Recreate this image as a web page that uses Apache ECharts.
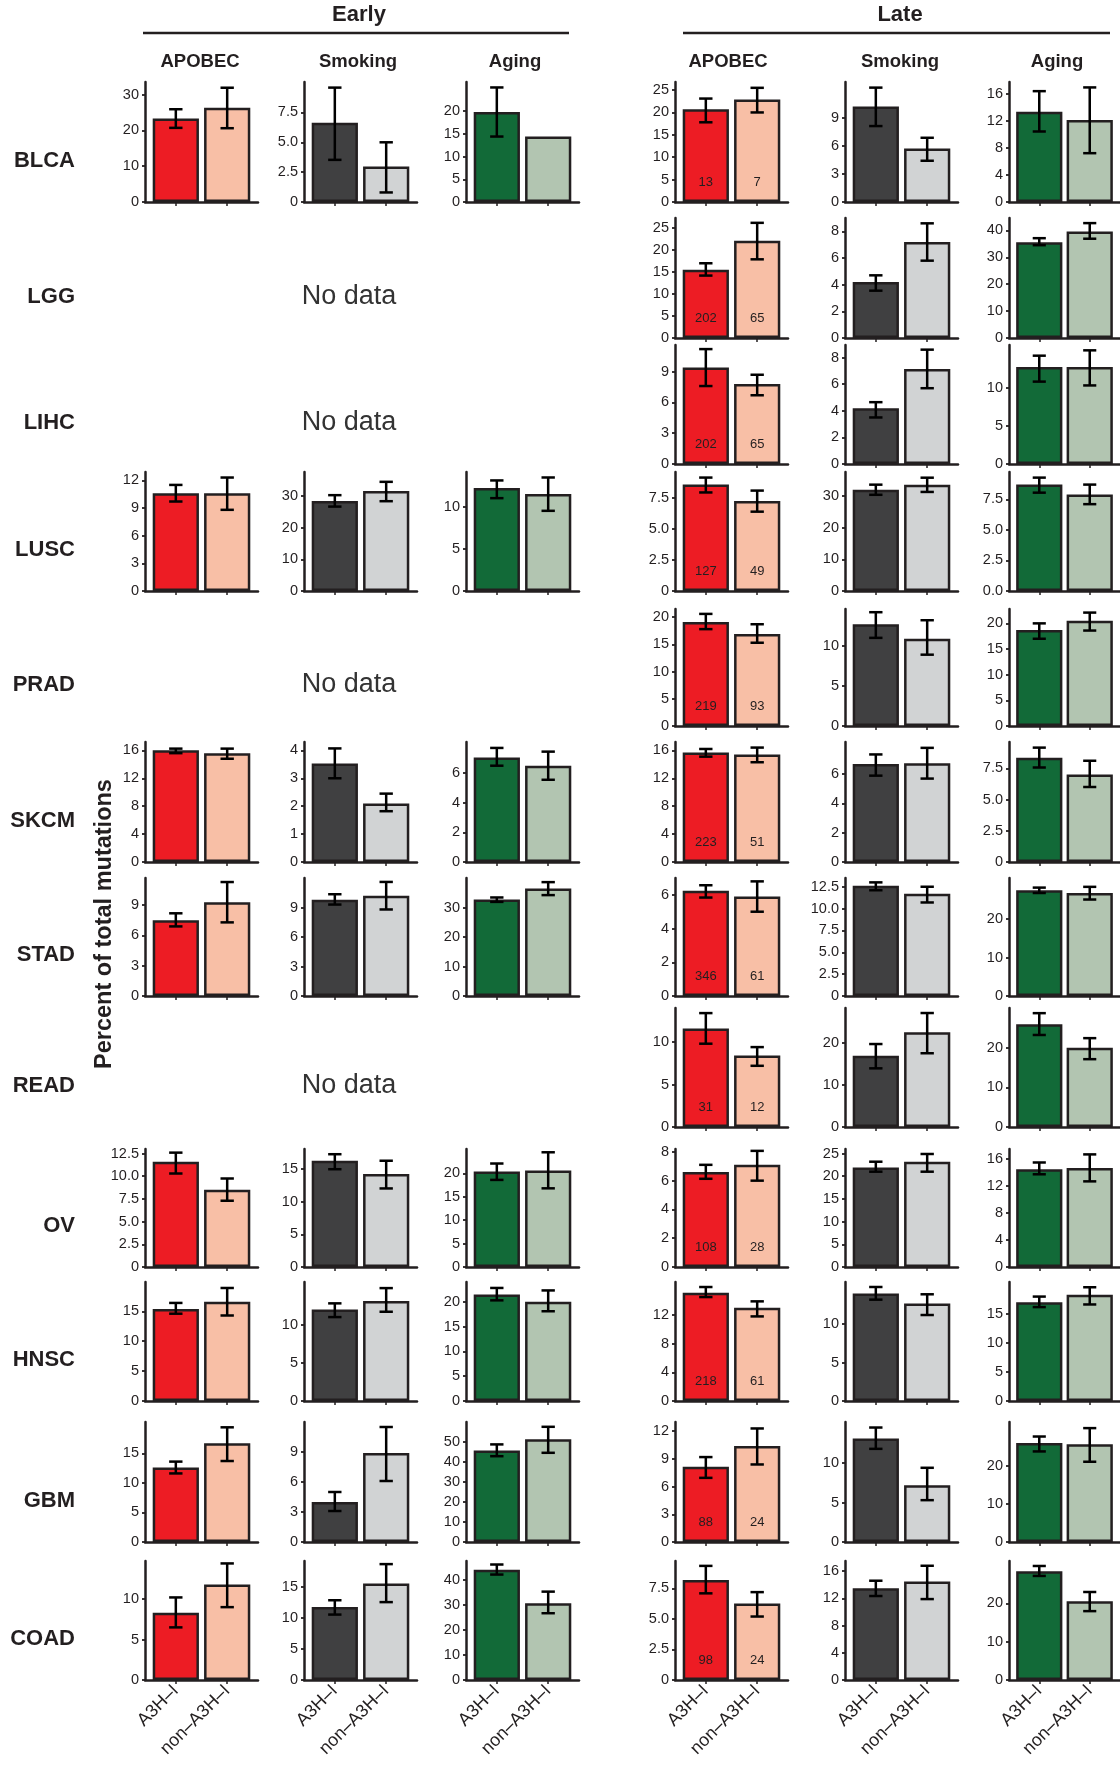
<!DOCTYPE html>
<html><head><meta charset="utf-8">
<script src="https://cdn.jsdelivr.net/npm/echarts@6.0.0/dist/echarts.min.js"></script>
<style>html,body{margin:0;padding:0;background:#fff}#chart{width:1120px;height:1768px}</style>
</head><body><div id="chart"></div>
<script>
// ---------- DATA ----------
const cancers = ['BLCA','LGG','LIHC','LUSC','PRAD','SKCM','STAD','READ','OV','HNSC','GBM','COAD'];
const phases = ['Early','Late'];
const signatures = ['APOBEC','Smoking','Aging'];
const groups = ['A3H\u2013I','non\u2013A3H\u2013I'];
const noDataText = 'No data';
const yTitle = 'Percent of total mutations';

// Early APOBEC
const earlyApobecMean = [[23.3,26.3],null,null,[10.6,10.6],null,[16.0,15.6],[7.5,9.3],null,[11.6,8.5],[15.4,16.6],[12.6,16.7],[8.3,11.8]];
const earlyApobecLow  = [[20.7,20.6],null,null,[9.7,8.8],null,[15.6,14.8],[6.9,7.3],null,[10.3,7.3],[14.6,14.3],[11.6,13.7],[6.5,9.0]];
const earlyApobecHigh = [[25.9,31.9],null,null,[11.5,12.3],null,[16.25,16.25],[8.2,11.3],null,[12.6,9.75],[16.4,18.9],[13.6,19.4],[10.2,14.4]];
const earlyApobecMax  = [33.5,null,null,12.9,null,17.2,11.7,null,13.0,19.9,20.3,14.7];
const earlyApobecTicks = [['0','10','20','30'],null,null,['0','3','6','9','12'],null,['0','4','8','12','16'],['0','3','6','9'],null,['0','2.5','5.0','7.5','10.0','12.5'],['0','5','10','15'],['0','5','10','15'],['0','5','10']];

// Early Smoking
const earlySmokingMean = [[6.64,2.97],null,null,[28.4,31.5],null,[3.53,2.1],[9.8,10.2],null,[16.3,14.25],[12.0,13.1],[4.0,8.9],[11.7,15.5]];
const earlySmokingLow  = [[3.53,0.8],null,null,[26.6,28.3],null,[3.0,1.82],[9.3,8.8],null,[15.0,12.05],[11.0,11.7],[3.1,6.1],[10.5,12.5]];
const earlySmokingHigh = [[9.58,5.0],null,null,[30.2,34.4],null,[4.07,2.45],[10.35,11.6],null,[17.3,16.3],[12.8,14.8],[5.0,11.5],[12.8,18.6]];
const earlySmokingMax  = [10.05,null,null,37.5,null,4.3,12.0,null,18.1,15.6,12.0,19.1];
const earlySmokingTicks = [['0','2.5','5.0','7.5'],null,null,['0','10','20','30'],null,['0','1','2','3','4'],['0','3','6','9'],null,['0','5','10','15'],['0','5','10'],['0','3','6','9'],['0','5','10','15']];

// Early Aging
const earlyAgingMean = [[19.8,14.4],null,null,[12.2,11.5],null,[7.05,6.5],[32.7,36.4],null,[20.4,20.6],[21.5,20.0],[45.8,51.4],[43.9,30.6]];
const earlyAgingLow  = [[14.4,null],null,null,[11.0,9.5],null,[6.5,5.55],[31.9,34.2],null,[18.6,16.8],[20.3,18.1],[42.9,44.6],[42.0,26.6]];
const earlyAgingHigh = [[25.2,null],null,null,[13.1,13.45],null,[7.7,7.45],[33.4,38.6],null,[22.1,24.5],[22.8,22.3],[48.8,57.6],[46.0,35.2]];
const earlyAgingMax  = [26.4,null,null,14.1,null,8.1,40,null,25.2,24.0,60,47.4];
const earlyAgingTicks = [['0','5','10','15','20'],null,null,['0','5','10'],null,['0','2','4','6'],['0','10','20','30'],null,['0','5','10','15','20'],['0','5','10','15','20'],['0','10','20','30','40','50'],['0','10','20','30','40']];

// Late APOBEC
const lateApobecMean = [[20.7,22.9],[15.5,22.1],[9.4,7.8],[8.6,7.27],[19.1,16.9],[15.7,15.4],[6.24,5.9],[11.6,8.4],[6.6,7.1],[15.1,13.0],[8.15,10.4],[8.2,6.27]];
const lateApobecLow  = [[17.8,20.0],[14.2,17.9],[7.6,6.7],[7.95,6.4],[17.8,15.3],[15.1,14.3],[5.84,5.0],[9.8,7.2],[6.13,6.0],[14.5,11.8],[6.95,8.4],[7.1,5.2]];
const lateApobecHigh = [[23.1,25.5],[17.0,26.2],[11.2,8.7],[9.15,8.1],[20.6,18.7],[16.2,16.4],[6.57,6.8],[13.4,9.4],[7.1,8.07],[15.9,13.9],[9.2,12.3],[9.35,7.2]];
const lateApobecMax  = [26.8,27.3,11.6,9.6,21.5,17.2,7.0,14.0,8.2,16.6,13.0,9.75];
const lateApobecTicks = [['0','5','10','15','20','25'],['0','5','10','15','20','25'],['0','3','6','9'],['0','2.5','5.0','7.5'],['0','5','10','15','20'],['0','4','8','12','16'],['0','2','4','6'],['0','5','10'],['0','2','4','6','8'],['0','4','8','12'],['0','3','6','9','12'],['0','2.5','5.0','7.5']];
const lateApobecCounts = [[13,7],[202,65],[202,65],[127,49],[219,93],[223,51],[346,61],[31,12],[108,28],[218,61],[88,24],[98,24]];

// Late Smoking
const lateSmokingMean = [[10.2,5.7],[4.2,7.2],[4.2,7.15],[32.0,33.6],[12.7,10.9],[6.7,6.75],[12.6,11.7],[17.0,22.6],[21.9,23.2],[14.0,12.7],[13.1,7.2],[13.5,14.5]];
const lateSmokingLow  = [[8.1,4.4],[3.55,5.8],[3.5,5.7],[30.4,31.3],[11.0,8.9],[5.9,5.7],[12.1,10.7],[14.0,17.6],[21.0,21.0],[13.2,11.2],[11.8,5.3],[12.35,11.9]];
const lateSmokingHigh = [[12.2,6.85],[4.7,8.6],[4.65,8.6],[33.6,35.8],[14.2,13.2],[7.35,7.8],[13.0,12.5],[19.8,27.2],[23.2,24.9],[14.85,13.9],[14.5,9.4],[14.6,16.8]];
const lateSmokingMax  = [12.8,9.0,8.95,37.6,14.6,8.2,13.5,28.4,26.0,15.5,15.2,17.5];
const lateSmokingTicks = [['0','3','6','9'],['0','2','4','6','8'],['0','2','4','6','8'],['0','10','20','30'],['0','5','10'],['0','2','4','6'],['0','2.5','5.0','7.5','10.0','12.5'],['0','10','20'],['0','5','10','15','20','25'],['0','5','10'],['0','5','10'],['0','4','8','12','16']];

// Late Aging
const lateAgingMean = [[13.3,12.1],[35.6,39.6],[12.7,12.7],[8.7,7.9],[18.7,20.5],[8.34,7.0],[27.5,26.8],[25.9,20.0],[14.5,14.7],[16.95,18.2],[25.9,25.6],[28.4,20.6]];
const lateAgingLow  = [[10.4,7.2],[34.5,36.9],[10.8,10.3],[8.04,7.1],[17.0,18.6],[7.56,6.0],[26.8,25.1],[23.2,17.1],[13.75,12.7],[16.1,16.55],[23.7,21.0],[27.2,18.0]];
const lateAgingHigh = [[16.35,16.9],[37.1,42.7],[14.2,14.9],[9.27,8.7],[20.0,22.1],[9.15,8.1],[28.2,28.4],[28.7,22.4],[15.5,16.7],[17.9,19.5],[27.6,29.8],[29.8,23.0]];
const lateAgingMax  = [17.7,44.6,15.6,9.73,22.8,9.6,30.7,30.0,17.5,20.4,31.4,31.1];
const lateAgingTicks = [['0','4','8','12','16'],['0','10','20','30','40'],['0','5','10'],['0.0','2.5','5.0','7.5'],['0','5','10','15','20'],['0','2.5','5.0','7.5'],['0','10','20'],['0','10','20'],['0','4','8','12','16'],['0','5','10','15'],['0','10','20'],['0','10','20']];

// ---------- LAYOUT / STYLE ----------
const FONT = '"Liberation Sans", Arial, Helvetica, sans-serif';
const INK = '#231F20';
const sigColors = [['#ED1C24','#F8BFA6'],['#404041','#D1D3D4'],['#126A38','#B2C5B1']];
const rowTop  = [82,218,345,472,609,742,878,1008,1149,1282,1422,1561];
const rowZero = [202,338,464,591,726,862,996,1127,1267,1401,1542,1680];
const panelLeft = [[145,304,466],[675,845,1009]];
const titleX = [[200,358,515],[728,900,1057]];
const PW = 113;

const grids=[], xAxes=[], yAxes=[], series=[], graphics=[];

function addPanel(left, r, sig, mean, low, high, ymax, ticks, counts, isBottom){
  const k = grids.length;
  const top = rowTop[r], h = rowZero[r]-rowTop[r], w = PW;
  grids.push({left:left, top:top, width:w, height:h, containLabel:false});
  const tickVals = ticks.map(Number);
  xAxes.push({type:'value', gridIndex:k, min:0.4, max:2.6,
    axisLine:{show:true, onZero:false, lineStyle:{color:INK,width:2.5}},
    axisTick:{show:true, customValues:[1,2], length:4, lineStyle:{color:INK,width:1.5}},
    axisLabel:{show:isBottom, customValues:[1,2], formatter:v=>groups[Math.round(v)-1], rotate:45,
      fontSize:18, color:INK, fontFamily:FONT, margin:8},
    splitLine:{show:false}});
  yAxes.push({type:'value', gridIndex:k, min:0, max:ymax,
    axisLine:{show:true, lineStyle:{color:INK,width:2.5}},
    axisTick:{show:true, customValues:tickVals, length:3, lineStyle:{color:INK,width:1.8}},
    axisLabel:{customValues:tickVals, formatter:v=>{const i=tickVals.indexOf(v);return i>=0?ticks[i]:'';},
      fontSize:14.5, color:INK, fontFamily:FONT, margin:6},
    splitLine:{show:false}});
  series.push({type:'bar', xAxisIndex:k, yAxisIndex:k, barWidth: w*0.9/2.2, silent:true, animation:false,
    data: mean.map((m,i)=>({value:[i+1,m], itemStyle:{color:sigColors[sig][i]}})),
    itemStyle:{borderColor:INK, borderWidth:2.5},
    label: counts ? {show:true, position:'insideBottom', distance:13,
      formatter:p=>String(counts[p.dataIndex]), fontSize:13, color:INK, fontFamily:FONT} : {show:false}});
  const errData=[];
  mean.forEach((m,i)=>{ if(low[i]!=null && high[i]!=null) errData.push([i+1, low[i], high[i]]); });
  series.push({type:'custom', xAxisIndex:k, yAxisIndex:k, z:5, silent:true, animation:false, clip:false,
    data: errData, encode:{x:0, y:[1,2]},
    renderItem:(params, api)=>{
      const x=api.value(0);
      const a=api.coord([x, api.value(1)]), b=api.coord([x, api.value(2)]);
      const c=api.coord([x-0.13,0])[0], d=api.coord([x+0.13,0])[0];
      const st={stroke:'#000', lineWidth:2.5};
      return {type:'group', children:[
        {type:'line', shape:{x1:a[0],y1:a[1],x2:b[0],y2:b[1]}, style:st},
        {type:'line', shape:{x1:c,y1:a[1],x2:d,y2:a[1]}, style:st},
        {type:'line', shape:{x1:c,y1:b[1],x2:d,y2:b[1]}, style:st}]};
    }});
}

function txt(x,y,text,size,weight,align,rot,color){
  graphics.push({type:'text', x:x, y:y, rotation:rot||0, silent:true,
    style:{text:text, fontSize:size, fontWeight:weight, fontFamily:FONT, fill:color||INK,
      align:align||'center', textAlign:align||'center', verticalAlign:'middle', textVerticalAlign:'middle'}});
}
function hline(x1,x2,y){
  graphics.push({type:'line', silent:true, shape:{x1:x1,y1:y,x2:x2,y2:y}, style:{stroke:INK, lineWidth:2.5}});
}

const early = [
  [earlyApobecMean, earlyApobecLow, earlyApobecHigh, earlyApobecMax, earlyApobecTicks, null],
  [earlySmokingMean, earlySmokingLow, earlySmokingHigh, earlySmokingMax, earlySmokingTicks, null],
  [earlyAgingMean, earlyAgingLow, earlyAgingHigh, earlyAgingMax, earlyAgingTicks, null]];
const late = [
  [lateApobecMean, lateApobecLow, lateApobecHigh, lateApobecMax, lateApobecTicks, lateApobecCounts],
  [lateSmokingMean, lateSmokingLow, lateSmokingHigh, lateSmokingMax, lateSmokingTicks, null],
  [lateAgingMean, lateAgingLow, lateAgingHigh, lateAgingMax, lateAgingTicks, null]];

cancers.forEach((c,r)=>{
  const isBottom = r===cancers.length-1;
  [early, late].forEach((ph,pi)=>{
    ph.forEach((s,si)=>{
      if(s[0][r]==null) return;
      addPanel(panelLeft[pi][si], r, si, s[0][r], s[1][r], s[2][r], s[3][r], s[4][r], s[5]?s[5][r]:null, isBottom);
    });
  });
  txt(75, rowZero[r]-41, c, 22, 'bold', 'right');
  if(earlyApobecMean[r]==null) txt(349, rowZero[r]-41, noDataText, 27, 'normal', 'center', 0, '#333');
});

// headers
txt(359, 15, phases[0], 22, 'bold');
hline(143, 569, 33);
txt(900, 15, phases[1], 22, 'bold');
hline(683, 1110, 33);
signatures.forEach((s,i)=>{ txt(titleX[0][i], 62, s, 18.5, 'bold'); txt(titleX[1][i], 62, s, 18.5, 'bold'); });
txt(105, 924, yTitle, 23.5, 'bold', 'center', Math.PI/2);

const chart = echarts.init(document.getElementById('chart'), null, {renderer:'canvas'});
chart.setOption({animation:false, backgroundColor:'#fff', grid:grids, xAxis:xAxes, yAxis:yAxes, series:series, graphic:graphics});
</script></body></html>
